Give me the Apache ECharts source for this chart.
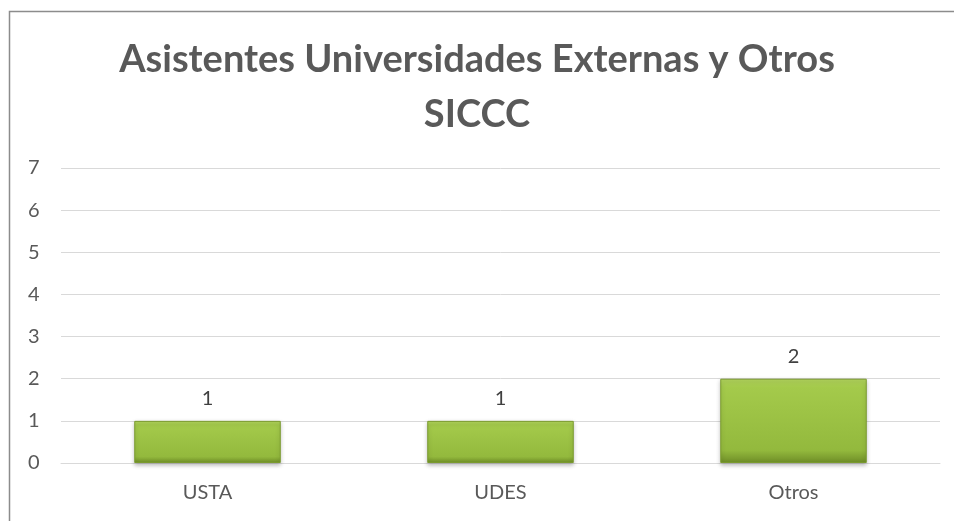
<!DOCTYPE html>
<html>
<head>
<meta charset="utf-8">
<script src="https://cdn.jsdelivr.net/npm/echarts@6/dist/echarts.min.js"></script>
<style>
  html, body { margin: 0; padding: 0; background: #fff; }
  #chart { width: 954px; height: 521px; }
</style>
</head>
<body>
<div id="chart"></div>
<script>
  // datos del gráfico
  const categories = ['USTA', 'UDES', 'Otros']
  const asistentes = [1, 1, 2]
  const titleLines = ['Asistentes Universidades Externas y Otros', 'SICCC']

  const textColor = '#595959'
  const chart = echarts.init(document.getElementById('chart'))

  const option = {
    backgroundColor: '#ffffff',
    animation: false,
    title: {
      text: titleLines.join('\n'),
      left: 'center',
      top: 27,
      textStyle: {
        fontFamily: 'Lato',
        fontWeight: 'bold',
        fontSize: 38,
        lineHeight: 55,
        color: textColor
      }
    },
    graphic: [
      {
        type: 'rect',
        shape: { x: 9.5, y: 11.5, width: 1000, height: 600 },
        style: { fill: 'none', stroke: '#8c8c8c', lineWidth: 1.5 },
        silent: true
      }
    ],
    grid: {
      left: 61,
      right: 14,
      top: 168,
      bottom: 58
    },
    xAxis: {
      type: 'category',
      data: categories,
      axisLine: { lineStyle: { color: '#d9d9d9', width: 1 } },
      axisTick: { show: false },
      axisLabel: {
        color: textColor,
        fontFamily: 'Lato',
        fontSize: 20,
        margin: 20
      }
    },
    yAxis: {
      type: 'value',
      min: 0,
      max: 7,
      interval: 1,
      axisLine: { show: false },
      axisTick: { show: false },
      splitLine: { lineStyle: { color: '#d9d9d9', width: 1 } },
      axisLabel: {
        color: textColor,
        fontFamily: 'Lato',
        fontSize: 20,
        margin: 33,
        align: 'left'
      }
    },
    series: [
      {
        type: 'bar',
        data: asistentes,
        barWidth: '50%',
        itemStyle: {
          color: new echarts.graphic.LinearGradient(0, 0, 0, 1, [
            { offset: 0, color: '#b3d65e' },
            { offset: 0.1, color: '#a4ca4b' },
            { offset: 0.85, color: '#93b93d' },
            { offset: 1, color: '#6e8d27' }
          ]),
          borderColor: '#7a9a2e',
          borderWidth: 1,
          shadowColor: 'rgba(0,0,0,0.25)',
          shadowBlur: 4,
          shadowOffsetY: 2
        },
        label: {
          show: true,
          position: 'top',
          distance: 12,
          color: '#404040',
          fontFamily: 'Lato',
          fontSize: 20
        }
      }
    ]
  }

  chart.setOption(option)
</script>
</body>
</html>
